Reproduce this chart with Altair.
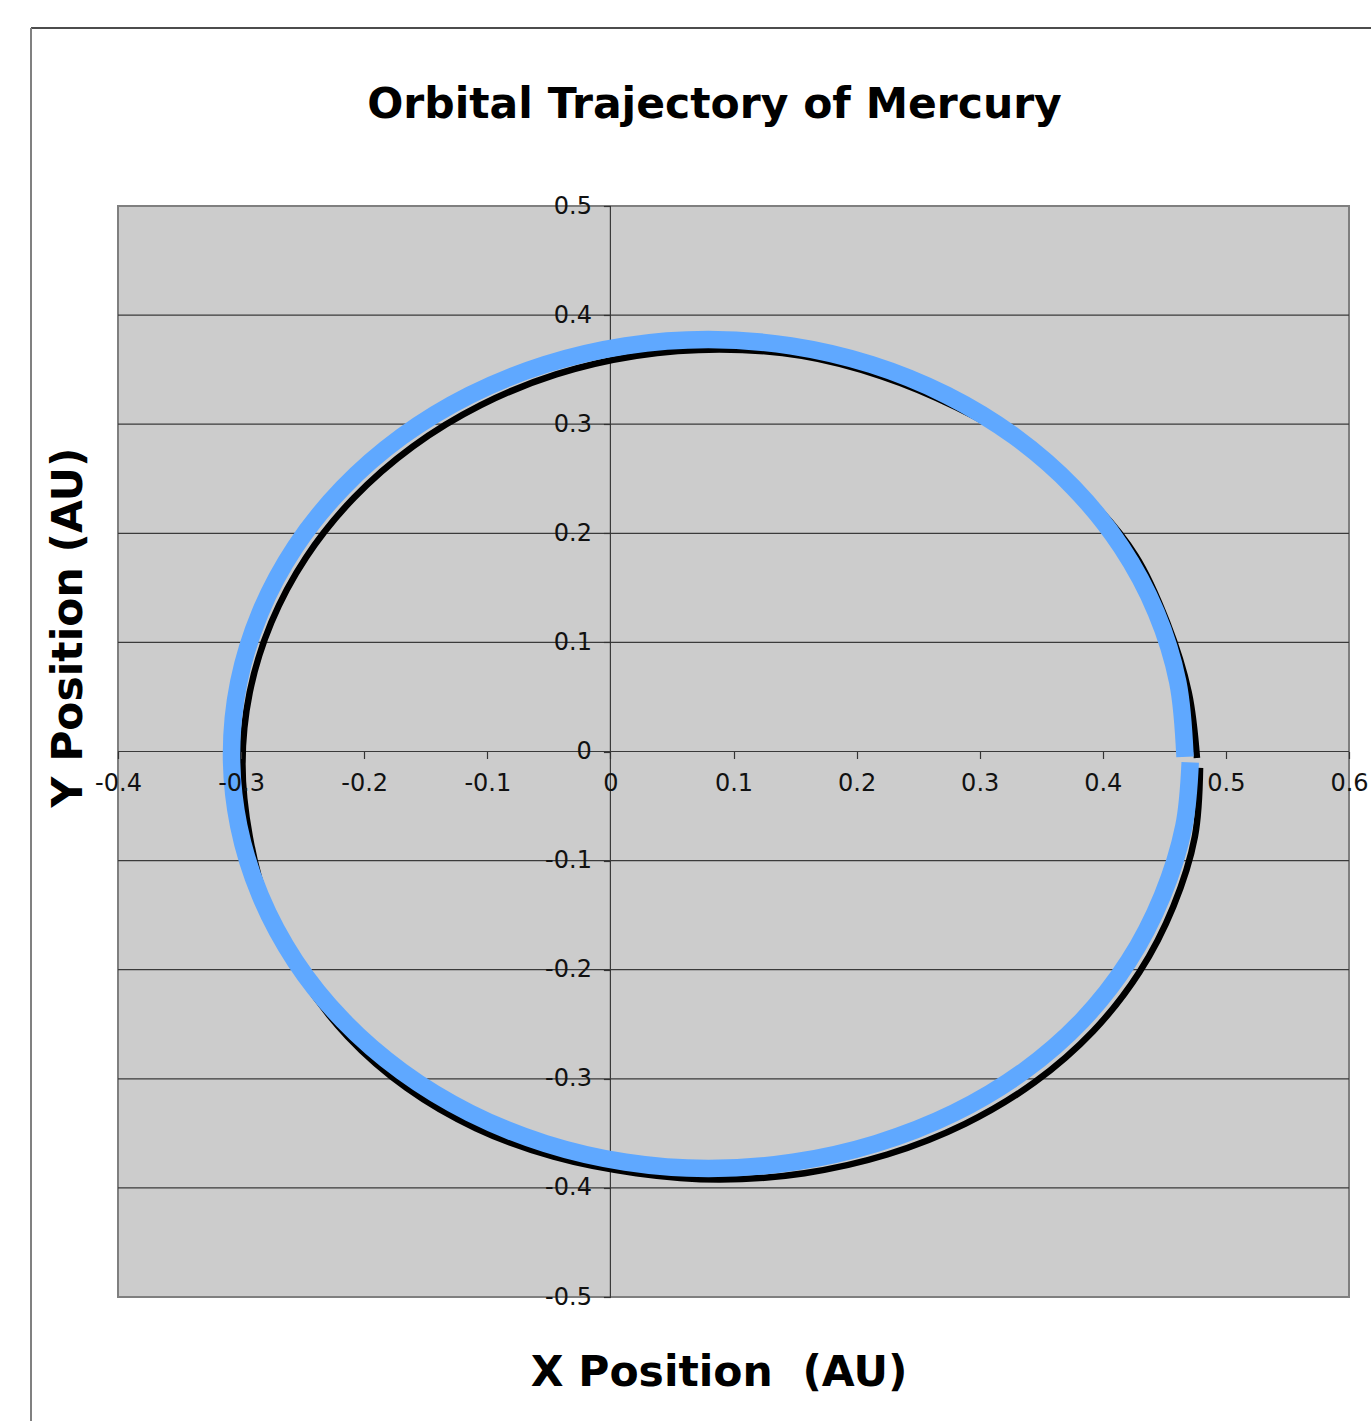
import altair as alt
import pandas as pd

# Heliocentric positions (AU) along one revolution, in path order.
# Trace 1: thin black orbit
trace1_x = [0.4765, 0.4698, 0.4523, 0.4268, 0.3871, 0.3374, 0.2811, 0.2199, 0.1556, 0.0884,
            0.0212, -0.0441, -0.1053, -0.1606, -0.2083, -0.2470, -0.2755, -0.2930, -0.2989,
            -0.2930, -0.2775, -0.2510, -0.2133, -0.1656, -0.1093, -0.0461, 0.0212, 0.0884,
            0.1576, 0.2249, 0.2881, 0.3444, 0.3921, 0.4298, 0.4573, 0.4748, 0.4790]
trace1_y = [-0.0060, 0.0542, 0.1182, 0.1793, 0.2336, 0.2795, 0.3155, 0.3441, 0.3627, 0.3685,
            0.3627, 0.3456, 0.3175, 0.2795, 0.2326, 0.1783, 0.1182, 0.0542, -0.0119,
            -0.0780, -0.1440, -0.2061, -0.2614, -0.3083, -0.3453, -0.3714, -0.3865, -0.3923,
            -0.3865, -0.3694, -0.3413, -0.3033, -0.2564, -0.2021, -0.1420, -0.0780, -0.0150]

# Trace 2: thick blue orbit
trace2_x = [0.4668, 0.4609, 0.4434, 0.4149, 0.3762, 0.3285, 0.2732, 0.2120, 0.1467, 0.0795,
            0.0123, -0.0530, -0.1142, -0.1695, -0.2172, -0.2559, -0.2844, -0.3019, -0.3078,
            -0.3019, -0.2844, -0.2559, -0.2172, -0.1695, -0.1142, -0.0530, 0.0123, 0.0795,
            0.1487, 0.2160, 0.2792, 0.3355, 0.3832, 0.4209, 0.4484, 0.4659, 0.4710]
trace2_y = [-0.0050, 0.0637, 0.1276, 0.1877, 0.2419, 0.2887, 0.3267, 0.3547, 0.3718, 0.3776,
            0.3718, 0.3547, 0.3267, 0.2887, 0.2419, 0.1877, 0.1276, 0.0637, -0.0023,
            -0.0683, -0.1322, -0.1923, -0.2465, -0.2933, -0.3313, -0.3593, -0.3764, -0.3822,
            -0.3764, -0.3593, -0.3313, -0.2933, -0.2465, -0.1923, -0.1322, -0.0683, -0.0100]

x_ticks = [-0.4, -0.3, -0.2, -0.1, 0, 0.1, 0.2, 0.3, 0.4, 0.5, 0.6]
y_ticks = [-0.5, -0.4, -0.3, -0.2, -0.1, 0, 0.1, 0.2, 0.3, 0.4, 0.5]
grid_y = [-0.4, -0.3, -0.2, -0.1, 0, 0.1, 0.2, 0.3, 0.4]

title_text = "Orbital Trajectory of Mercury"
x_title = "X Position\u00a0 (AU)"
y_title = "Y Position (AU)"

W, H = 1231, 1091
FONT = "DejaVu Sans"

xs = alt.Scale(domain=[-0.4, 0.6], nice=False, zero=False)
ys = alt.Scale(domain=[-0.5, 0.5], nice=False, zero=False)

t1 = pd.DataFrame({"x": trace1_x, "y": trace1_y, "i": range(len(trace1_x))})
t2 = pd.DataFrame({"x": trace2_x, "y": trace2_y, "i": range(len(trace2_x))})
grid_df = pd.DataFrame({"g": grid_y})
one = pd.DataFrame({"k": [0]})

# Axes cross at the origin: ticks and labels only, lines come from rules below
x_axis = alt.Axis(values=x_ticks, labelExpr="toString(datum.value)", orient="bottom",
                  offset=-(H / 2), domain=False, grid=False, title=None,
                  tickSize=7, tickWidth=1.2, tickColor="#333333",
                  labelFont=FONT, labelFontSize=24, labelColor="#111111",
                  labelPadding=13, labelOverlap=False, labelFlush=False, zindex=1)
y_axis = alt.Axis(values=y_ticks, labelExpr="toString(datum.value)", orient="left",
                  offset=-(W * 0.4), domain=False, grid=False, title=None,
                  tickSize=7, tickWidth=1.2, tickColor="#333333",
                  labelFont=FONT, labelFontSize=24, labelColor="#111111",
                  labelPadding=12, labelOverlap=False, labelFlush=False, zindex=1)

# Horizontal gridlines (including the zero line)
hgrid = alt.Chart(grid_df).mark_rule(color="#3a3a3a", strokeWidth=1.2).encode(
    y=alt.Y("g:Q", scale=ys, axis=y_axis),
    x=alt.value(0), x2=alt.value(W),
)

# Vertical zero line
vzero = alt.Chart(one).mark_rule(color="#3a3a3a", strokeWidth=1.2).encode(
    x=alt.X("k:Q", scale=xs, axis=x_axis),
    y=alt.value(0), y2=alt.value(H),
)

line1 = alt.Chart(t1).mark_line(color="#000000", strokeWidth=6.5,
                                interpolate="catmull-rom").encode(
    x=alt.X("x:Q", scale=xs), y=alt.Y("y:Q", scale=ys), order="i:Q")

line2 = alt.Chart(t2).mark_line(color="#5fa8ff", strokeWidth=17.5,
                                interpolate="catmull-rom").encode(
    x=alt.X("x:Q", scale=xs), y=alt.Y("y:Q", scale=ys), order="i:Q")

# Outer chart frame
frame_top = alt.Chart(one).mark_rule(color="#111111", strokeWidth=1.5).encode(
    x=alt.value(-87), x2=alt.value(1253), y=alt.value(-178))
frame_left = alt.Chart(one).mark_rule(color="#808080", strokeWidth=2).encode(
    x=alt.value(-87), y=alt.value(-178), y2=alt.value(1215))

title = alt.Chart(one).mark_text(text=title_text, font=FONT, fontSize=42.5, fontWeight="bold",
                                 align="center", baseline="alphabetic", color="#000000").encode(
    x=alt.value(596.5), y=alt.value(-88))
x_lab = alt.Chart(one).mark_text(text=x_title, font=FONT, fontSize=42.5, fontWeight="bold",
                                 align="center", baseline="alphabetic", color="#000000").encode(
    x=alt.value(601), y=alt.value(1180))
y_lab = alt.Chart(one).mark_text(text=y_title, font=FONT, fontSize=42.5, fontWeight="bold",
                                 align="center", baseline="alphabetic", angle=270,
                                 color="#000000").encode(
    x=alt.value(-36), y=alt.value(421.5))

chart = alt.layer(hgrid, vzero, line1, line2, frame_top, frame_left,
                  title, x_lab, y_lab).properties(
    width=W, height=H,
    autosize=alt.AutoSizeParams(type="none"),
    padding={"left": 118, "top": 206, "right": 22, "bottom": 124},
    background="#ffffff",
).configure_view(fill="#cccccc", stroke="#7f7f7f", strokeWidth=2)

chart.save("out.html", embed_options={"renderer": "svg", "actions": False})
